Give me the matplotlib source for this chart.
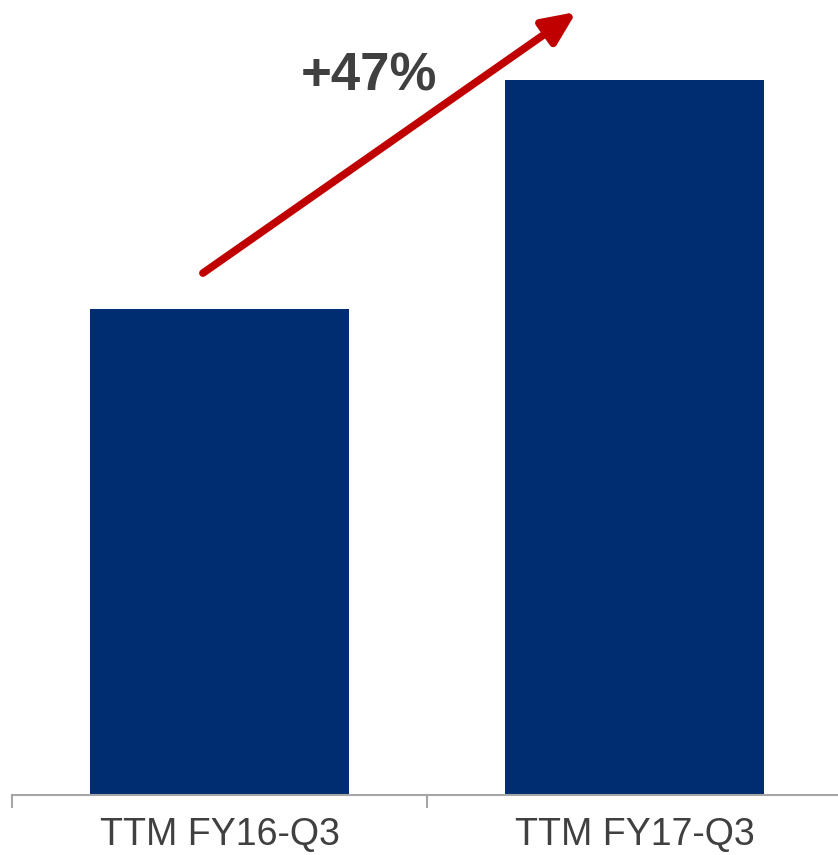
import matplotlib
matplotlib.use('Agg')
import matplotlib.pyplot as plt

categories = ['TTM FY16-Q3', 'TTM FY17-Q3']
values = [100, 147]
growth_label = '+47%'

plt.rcParams['font.family'] = ['Liberation Sans', 'DejaVu Sans']

fig = plt.figure(figsize=(8.38, 8.55), dpi=100)
ax = fig.add_axes([12 / 838, 1 - 795 / 855, 830 / 838, 795 / 855])

x = range(len(categories))
ax.bar(x, values, width=0.624, color='#002D72')

ymax = values[1] * 795 / 715
ax.set_xlim(-0.5, len(categories) - 0.5)
ax.set_ylim(0, ymax)

# growth arrow between the two bars
ax.annotate('', xy=(0.86, ymax * 0.985), xytext=(-0.04, values[0] * 1.073),
            arrowprops=dict(arrowstyle='-|>,head_length=2.0,head_width=0.9',
                            color='#C00000', lw=5.5, capstyle='round',
                            shrinkA=0, shrinkB=0))
ax.text(0.36, values[1] * 1.005, growth_label, ha='center', va='center',
        fontsize=38, fontweight='bold', color='#404040')

for s in ['left', 'right', 'top']:
    ax.spines[s].set_visible(False)
ax.spines['bottom'].set_color('#A6A6A6')
ax.spines['bottom'].set_linewidth(1.5)

ax.set_yticks([])
ax.set_xticks(list(x))
ax.set_xticklabels(categories, fontsize=27, color='#404040')
ax.tick_params(axis='x', which='major', length=0, pad=16)
ax.set_xticks([-0.5, 0.5, 1.5], minor=True)
ax.tick_params(axis='x', which='minor', length=9, width=1.5, color='#A6A6A6')

fig.savefig('out.png', dpi=100)
plt.close(fig)
